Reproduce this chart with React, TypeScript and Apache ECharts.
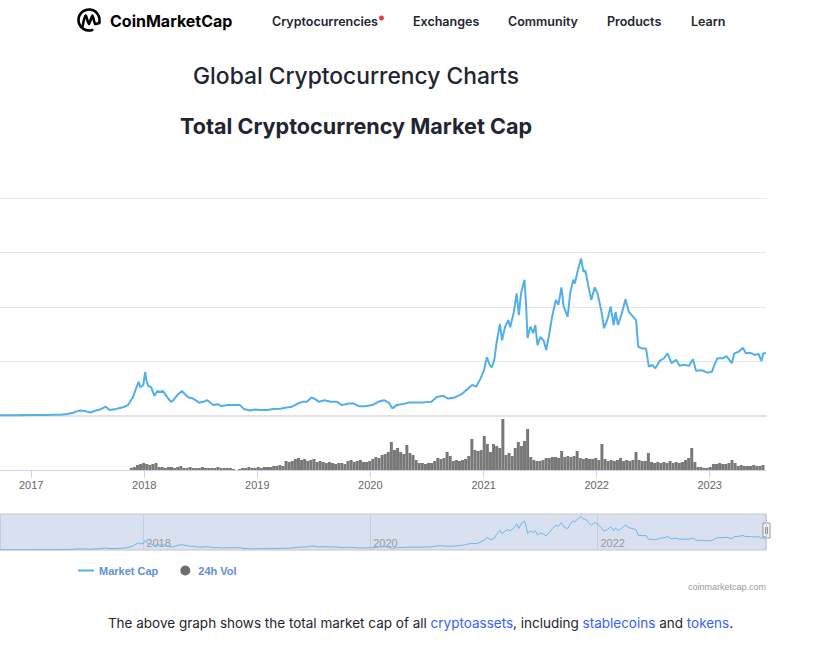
import React, { useEffect, useRef } from 'react';
import * as echarts from 'echarts';

// ---------- data ----------
const xStart = '2016-09-27';
const xEnd = '2023-06-27';

// Total market cap, trillions of USD
const marketCapT: [string, number][] = [
  ['2016-09-27', 0.013], ['2016-11-15', 0.013], ['2017-01-01', 0.017], ['2017-02-15', 0.019],
  ['2017-03-20', 0.024], ['2017-04-15', 0.028], ['2017-05-01', 0.035], ['2017-05-20', 0.06],
  ['2017-06-01', 0.085], ['2017-06-12', 0.10], ['2017-06-28', 0.09], ['2017-07-15', 0.065],
  ['2017-08-01', 0.10], ['2017-08-15', 0.12], ['2017-09-02', 0.17], ['2017-09-15', 0.11],
  ['2017-10-05', 0.13], ['2017-10-30', 0.165], ['2017-11-13', 0.20], ['2017-11-29', 0.35],
  ['2017-12-09', 0.51], ['2017-12-17', 0.63], ['2017-12-22', 0.53], ['2018-01-01', 0.57],
  ['2018-01-07', 0.81], ['2018-01-11', 0.66], ['2018-01-17', 0.55], ['2018-01-26', 0.53],
  ['2018-02-06', 0.37], ['2018-02-15', 0.46], ['2018-02-24', 0.44], ['2018-03-05', 0.46],
  ['2018-03-18', 0.35], ['2018-03-31', 0.26], ['2018-04-08', 0.29], ['2018-04-23', 0.40],
  ['2018-05-05', 0.46], ['2018-05-15', 0.40], ['2018-05-27', 0.34], ['2018-06-10', 0.32],
  ['2018-06-24', 0.27], ['2018-06-29', 0.245], ['2018-07-13', 0.26], ['2018-07-26', 0.29],
  ['2018-08-14', 0.20], ['2018-08-30', 0.215], ['2018-09-09', 0.18], ['2018-09-28', 0.20],
  ['2018-10-19', 0.20], ['2018-11-08', 0.20], ['2018-11-20', 0.13], ['2018-12-10', 0.10],
  ['2018-12-28', 0.12], ['2019-01-12', 0.11], ['2019-02-03', 0.11], ['2019-02-24', 0.13],
  ['2019-03-18', 0.135], ['2019-04-02', 0.15], ['2019-04-24', 0.17], ['2019-05-10', 0.22],
  ['2019-05-27', 0.26], ['2019-06-11', 0.26], ['2019-06-26', 0.34], ['2019-07-08', 0.31],
  ['2019-07-20', 0.26], ['2019-08-07', 0.29], ['2019-08-26', 0.26], ['2019-09-16', 0.26],
  ['2019-10-02', 0.20], ['2019-10-23', 0.23], ['2019-11-08', 0.23], ['2019-11-25', 0.18],
  ['2019-12-16', 0.18], ['2020-01-07', 0.20], ['2020-01-27', 0.26], ['2020-02-14', 0.29],
  ['2020-03-01', 0.245], ['2020-03-12', 0.14], ['2020-03-26', 0.20], ['2020-04-16', 0.22],
  ['2020-05-07', 0.25], ['2020-05-29', 0.25], ['2020-06-19', 0.25], ['2020-07-16', 0.26],
  ['2020-08-02', 0.35], ['2020-08-23', 0.37], ['2020-09-07', 0.32], ['2020-09-29', 0.34],
  ['2020-10-21', 0.40], ['2020-11-06', 0.48], ['2020-11-24', 0.57], ['2020-12-07', 0.54],
  ['2020-12-21', 0.69], ['2021-01-01', 0.84], ['2021-01-10', 1.08], ['2021-01-19', 0.94],
  ['2021-01-26', 0.89], ['2021-02-03', 1.03], ['2021-02-10', 1.33], ['2021-02-21', 1.69],
  ['2021-02-28', 1.39], ['2021-03-10', 1.64], ['2021-03-20', 1.76], ['2021-03-26', 1.63],
  ['2021-04-07', 1.91], ['2021-04-16', 2.25], ['2021-04-23', 1.85], ['2021-04-30', 2.25],
  ['2021-05-11', 2.50], ['2021-05-16', 2.07], ['2021-05-21', 1.43], ['2021-05-30', 1.64],
  ['2021-06-08', 1.52], ['2021-06-15', 1.67], ['2021-06-22', 1.30], ['2021-07-01', 1.45],
  ['2021-07-12', 1.38], ['2021-07-20', 1.21], ['2021-07-28', 1.45], ['2021-08-09', 1.85],
  ['2021-08-20', 2.13], ['2021-08-28', 2.04], ['2021-09-07', 2.36], ['2021-09-14', 2.01],
  ['2021-09-27', 1.82], ['2021-10-05', 2.25], ['2021-10-15', 2.50], ['2021-10-20', 2.43],
  ['2021-10-30', 2.68], ['2021-11-09', 2.89], ['2021-11-17', 2.65], ['2021-11-23', 2.67],
  ['2021-12-03', 2.37], ['2021-12-12', 2.13], ['2021-12-23', 2.36], ['2022-01-01', 2.25],
  ['2022-01-08', 2.07], ['2022-01-14', 1.91], ['2022-01-22', 1.61], ['2022-02-03', 1.79],
  ['2022-02-12', 2.01], ['2022-02-22', 1.67], ['2022-02-28', 1.91], ['2022-03-08', 1.67],
  ['2022-03-20', 1.88], ['2022-04-01', 2.14], ['2022-04-12', 1.91], ['2022-04-26', 1.82],
  ['2022-05-05', 1.76], ['2022-05-12', 1.27], ['2022-05-24', 1.24], ['2022-06-06', 1.24],
  ['2022-06-15', 0.905], ['2022-06-26', 0.94], ['2022-07-06', 0.875], ['2022-07-20', 1.01],
  ['2022-08-03', 1.06], ['2022-08-14', 1.15], ['2022-08-27', 0.97], ['2022-09-11', 1.03],
  ['2022-09-22', 0.92], ['2022-10-05', 0.94], ['2022-10-22', 0.92], ['2022-11-04', 1.04],
  ['2022-11-14', 0.83], ['2022-12-03', 0.84], ['2022-12-19', 0.795], ['2023-01-04', 0.81],
  ['2023-01-12', 0.94], ['2023-01-22', 1.06], ['2023-02-09', 1.06], ['2023-02-20', 1.10],
  ['2023-03-09', 0.97], ['2023-03-17', 1.15], ['2023-03-31', 1.18], ['2023-04-14', 1.25],
  ['2023-04-23', 1.15], ['2023-05-08', 1.16], ['2023-05-22', 1.12], ['2023-06-03', 1.14],
  ['2023-06-12', 1.01], ['2023-06-18', 1.15], ['2023-06-27', 1.15],
];

// 24h volume, billions of USD, one bar every volStepDays from volStart
const volStart = '2017-11-20';
const volStepDays = 10;
const volumeB: number[] = [
  14, 21,
  35, 42, 49, 42, 35, 42, 49,
  21, 21, 14, 21, 21, 14, 21, 28,
  14, 14, 21, 14, 14, 14, 21, 14, 14, 14, 14, 21, 14, 14, 14, 14,
  7, 0, 7,
  14, 14, 21, 14, 14, 21, 14, 21, 21, 21,
  28, 28, 35, 28,
  63, 56, 63,
  77, 84, 70, 77,
  63, 70, 77, 56, 63, 56, 49, 56, 49, 42, 49,
  49, 42, 63,
  70, 56, 63, 70, 56,
  56, 63,
  77, 91, 84, 105,
  112, 126, 196,
  140, 154, 126, 112, 175, 119, 105, 70,
  49, 49, 42, 49, 49,
  63, 84, 77, 84, 126, 98,
  63, 70, 63, 70, 77,
  98, 217, 140, 133, 140, 238, 182, 126, 182, 168, 154, 357, 105, 119, 98, 154, 196, 168, 203, 287, 91,
  70, 63, 63, 70, 84,
  84, 91, 91, 84, 133, 91, 98, 91, 98, 133, 84, 77, 84, 77, 77, 84, 70,
  182, 77,
  63, 70, 63, 70, 84, 63, 70, 63, 70,
  126, 70, 63, 63, 119, 56,
  49, 56, 49, 56, 49, 63, 49, 56, 49, 56,
  70, 84, 154, 56,
  21, 21, 14, 14,
  21,
  42, 42, 49, 42, 42, 49,
  70, 49,
  28, 35, 28, 28, 28, 35, 28, 28, 35,
];

const capAxisT = { min: 0, max: 4, interval: 1 };
const volAxisB = { min: 0, max: 364 };
const navAxisT = { min: 0, max: 3.1 };

const navItems = ['Cryptocurrencies', 'Exchanges', 'Community', 'Products', 'Learn'];
const navX = [272, 413, 508, 607, 691];

// ---------- component ----------
const DAY = 86400000;
const YEAR = 365 * DAY;
const ts = (s: string) => Date.parse(s);

const INTER = 'Inter, "Noto Sans", sans-serif';
const ARIAL = '"Liberation Sans", Arial, sans-serif';

export default function App() {
  const ref = useRef<HTMLDivElement>(null);

  useEffect(() => {
    if (!ref.current) return;
    const chart = echarts.init(ref.current, undefined, { renderer: 'svg' });

    const capData = marketCapT.map(([d, v]) => [ts(d), v]);
    const volData = volumeB.map((v, i) => [ts(volStart) + i * volStepDays * DAY, v]);
    const xmin = ts(xStart);
    const xmax = ts(xEnd);
    const yearFmt = (v: number) => String(new Date(v).getUTCFullYear());

    const capColor = '#52afe8';

    const graphics: any[] = [
      // logo
      {
        type: 'arc',
        shape: { cx: 89, cy: 20, r: 10.5, startAngle: 1.25, endAngle: 0.3 + Math.PI * 2, clockwise: true },
        style: { stroke: '#000', lineWidth: 2.6, fill: 'none', lineCap: 'round' },
      },
      {
        type: 'polyline',
        shape: { points: [[82.5, 26.5], [85.6, 15.5], [89, 24], [92.4, 15.5], [95.2, 24], [99.5, 22.5]], smooth: 0.25 },
        style: { stroke: '#000', lineWidth: 2.6, fill: 'none', lineJoin: 'round', lineCap: 'round' },
      },
      {
        type: 'text', x: 110, y: 21,
        style: { text: 'CoinMarketCap', fill: '#000', fontSize: 16, fontWeight: 700, fontFamily: INTER, align: 'left', verticalAlign: 'middle' },
      },
      ...navItems.map((n, i) => ({
        type: 'text', x: navX[i], y: 21,
        style: { text: n, fill: '#222531', fontSize: 12.5, fontWeight: 600, fontFamily: INTER, align: 'left', verticalAlign: 'middle' },
      })),
      { type: 'circle', shape: { cx: 381.5, cy: 18, r: 2.5 }, style: { fill: '#ea3943' } },
      {
        type: 'text', x: 356, y: 75,
        style: { text: 'Global Cryptocurrency Charts', fill: '#222531', fontSize: 22.8, fontWeight: 500, fontFamily: INTER, align: 'center', verticalAlign: 'middle' },
      },
      {
        type: 'text', x: 356, y: 126,
        style: { text: 'Total Cryptocurrency Market Cap', fill: '#222531', fontSize: 21.6, fontWeight: 700, fontFamily: INTER, align: 'center', verticalAlign: 'middle' },
      },
      {
        type: 'text', x: 766, y: 587,
        style: { text: 'coinmarketcap.com', fill: '#999999', fontSize: 9, fontFamily: ARIAL, align: 'right', verticalAlign: 'middle' },
      },
      // navigator handle (right end)
      {
        type: 'group', x: 763, y: 523,
        children: [
          { type: 'rect', shape: { x: 0, y: 0, width: 7, height: 15 }, style: { fill: '#f2f2f2', stroke: '#999', lineWidth: 1 } },
          { type: 'line', shape: { x1: 2.5, y1: 4, x2: 2.5, y2: 11 }, style: { stroke: '#999', lineWidth: 1 } },
          { type: 'line', shape: { x1: 4.5, y1: 4, x2: 4.5, y2: 11 }, style: { stroke: '#999', lineWidth: 1 } },
        ],
      },
      {
        type: 'text', x: 420.5, y: 623,
        style: {
          text: '{a|The above graph shows the total market cap of all }{b|cryptoassets}{a|, including }{b|stablecoins}{a| and }{b|tokens}{a|.}',
          align: 'center', verticalAlign: 'middle',
          rich: {
            a: { fill: '#222531', fontSize: 13.5, fontFamily: INTER },
            b: { fill: '#3861fb', fontSize: 13.5, fontFamily: INTER },
          },
        },
      },
    ];

    const option: any = {
      animation: false,
      useUTC: true,
      backgroundColor: '#ffffff',
      textStyle: { fontFamily: ARIAL },
      grid: [
        { left: 0, width: 766, top: 198, height: 218 },
        { left: 0, width: 766, top: 418, height: 52 },
        { left: 0, width: 766, top: 514, height: 36, show: true, backgroundColor: '#d9e0f0', borderColor: '#c6c6c6', borderWidth: 1 },
      ],
      xAxis: [
        {
          type: 'time', gridIndex: 0, min: xmin, max: xmax,
          axisLine: { show: true, lineStyle: { color: '#e3e3e3', width: 2 } },
          axisTick: { show: false }, axisLabel: { show: false }, splitLine: { show: false },
        },
        {
          type: 'time', gridIndex: 1, min: xmin, max: xmax, minInterval: YEAR, maxInterval: YEAR,
          axisLine: { show: true, lineStyle: { color: '#ccd6eb' } },
          axisTick: { show: true, length: 8, lineStyle: { color: '#ccd6eb' } },
          axisLabel: { color: '#666666', fontSize: 11, margin: 9, formatter: yearFmt, fontFamily: ARIAL, hideOverlap: false },
          splitLine: { show: false },
        },
        {
          type: 'time', gridIndex: 2, min: xmin, max: xmax, minInterval: 2 * YEAR, maxInterval: 2 * YEAR,
          axisLine: { show: false }, axisTick: { show: false },
          axisLabel: { inside: true, color: '#999999', fontSize: 11, align: 'left', padding: [0, 0, 0, 3], margin: 2, formatter: yearFmt, fontFamily: ARIAL },
          splitLine: { show: true, lineStyle: { color: '#c4cbdd', width: 1 } },
        },
      ],
      yAxis: [
        {
          type: 'value', gridIndex: 0, min: capAxisT.min, max: capAxisT.max, interval: capAxisT.interval,
          axisLabel: { show: false }, axisLine: { show: false }, axisTick: { show: false },
          splitLine: { show: true, lineStyle: { color: '#e6e6e6', width: 1 } },
        },
        {
          type: 'value', gridIndex: 1, min: volAxisB.min, max: volAxisB.max,
          axisLabel: { show: false }, axisLine: { show: false }, axisTick: { show: false }, splitLine: { show: false },
        },
        {
          type: 'value', gridIndex: 2, min: navAxisT.min, max: navAxisT.max,
          axisLabel: { show: false }, axisLine: { show: false }, axisTick: { show: false }, splitLine: { show: false },
        },
      ],
      legend: {
        left: 78, top: 565, padding: 0, itemWidth: 16, itemHeight: 10, itemGap: 22,
        textStyle: { color: '#628fd4', fontWeight: 'bold', fontSize: 11, fontFamily: ARIAL },
        data: [
          { name: 'Market Cap', icon: 'path://M0,0 L16,0 L16,2 L0,2 Z', itemStyle: { color: capColor } },
          { name: '24h Vol', icon: 'circle', itemStyle: { color: '#6e6e6e' } },
        ],
        selectedMode: false,
      },
      series: [
        {
          type: 'line', name: 'Market Cap', xAxisIndex: 0, yAxisIndex: 0, data: capData,
          showSymbol: false, symbol: 'none', lineStyle: { color: capColor, width: 2 }, itemStyle: { color: capColor },
        },
        {
          type: 'bar', name: '24h Vol', xAxisIndex: 1, yAxisIndex: 1, data: volData,
          barWidth: 3, itemStyle: { color: '#787878' },
        },
        {
          type: 'line', name: 'nav', xAxisIndex: 2, yAxisIndex: 2, data: capData,
          showSymbol: false, symbol: 'none', silent: true, lineStyle: { color: '#6db6ea', width: 1 },
        },
      ],
      graphic: graphics,
    };

    chart.setOption(option);
    return () => chart.dispose();
  }, []);

  return (
    <div
      ref={ref}
      style={{ position: 'absolute', left: 0, top: 0, width: 814, height: 664, background: '#fff' }}
    />
  );
}
